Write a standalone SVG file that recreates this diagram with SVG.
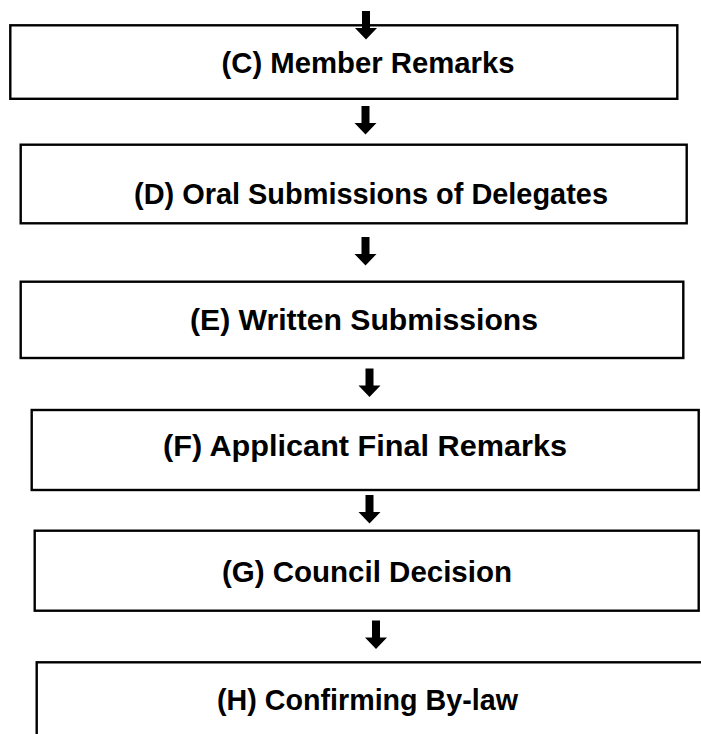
<svg xmlns="http://www.w3.org/2000/svg" width="701" height="734" viewBox="0 0 701 734">
<style>
.box{fill:#fff;stroke:#000;stroke-width:2.4}
.lbl{font-family:"Liberation Sans",Arial,sans-serif;font-weight:bold;font-size:29.5px;fill:#000;text-anchor:middle}
.arr{fill:#000;stroke:none}
</style>
<defs>
<path id="arrow" d="M-4,0 H4 V17 H11 L0,28.5 L-11,17 H-4 Z"/>
</defs>
<rect width="701" height="734" fill="#fff"/>
<g id="node-c"><rect class="box" x="10.3" y="25.3" width="667" height="73.5"/><text class="lbl" x="368" y="72.5" textLength="293" lengthAdjust="spacingAndGlyphs">(C) Member Remarks</text></g>
<g id="node-d"><rect class="box" x="20.7" y="144.7" width="666" height="78.6"/><text class="lbl" x="371" y="204" textLength="474" lengthAdjust="spacingAndGlyphs">(D) Oral Submissions of Delegates</text></g>
<g id="node-e"><rect class="box" x="20.7" y="281.7" width="662.6" height="76.3"/><text class="lbl" x="364" y="330" textLength="348" lengthAdjust="spacingAndGlyphs">(E) Written Submissions</text></g>
<g id="node-f"><rect class="box" x="31.7" y="410" width="667" height="80"/><text class="lbl" x="365" y="456" textLength="404" lengthAdjust="spacingAndGlyphs">(F) Applicant Final Remarks</text></g>
<g id="node-g"><rect class="box" x="34.7" y="530.7" width="664" height="80"/><text class="lbl" x="367" y="582" textLength="290" lengthAdjust="spacingAndGlyphs">(G) Council Decision</text></g>
<g id="node-h"><rect class="box" x="36.7" y="662.3" width="690" height="100"/><text class="lbl" x="367.5" y="710" textLength="301" lengthAdjust="spacingAndGlyphs">(H) Confirming By-law</text></g>
<g id="connectors" class="arr">
<use href="#arrow" x="366" y="11"/>
<use href="#arrow" x="365.5" y="106"/>
<use href="#arrow" x="365.5" y="237"/>
<use href="#arrow" x="369.5" y="368.5"/>
<use href="#arrow" x="369.5" y="495"/>
<use href="#arrow" x="376" y="620.5"/>
</g>
</svg>
